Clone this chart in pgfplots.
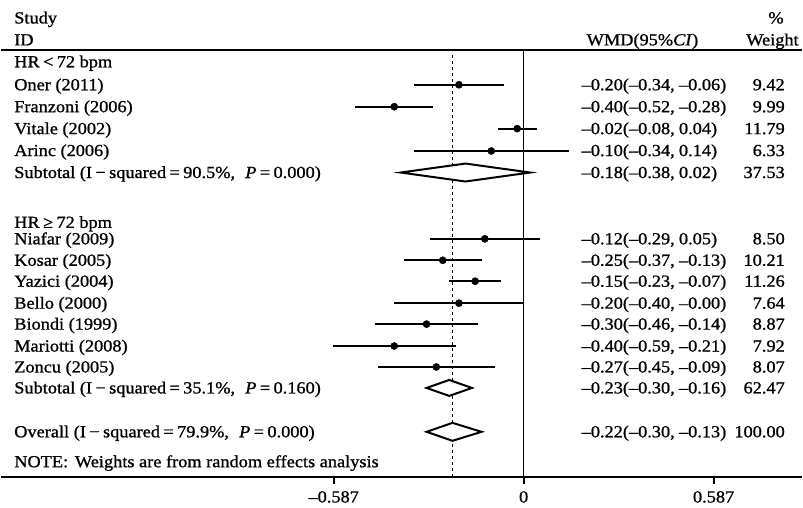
\documentclass[border=0pt]{standalone}
\usepackage{fontspec}
\setmainfont{Liberation Serif}[FakeStretch=1.08, FakeBold=1.0]
\usepackage{pgfplots}
\usepackage{pgfplotstable}
\pgfplotsset{compat=1.18}

% y = 509 - pixel row; est, lower, upper
\pgfplotstableread{
y est lo hi
424 -0.20 -0.34 -0.06
402 -0.40 -0.52 -0.28
380 -0.02 -0.08 0.04
357.6 -0.10 -0.34 0.14
269.5 -0.12 -0.29 0.05
248 -0.25 -0.37 -0.13
227 -0.15 -0.23 -0.07
205 -0.20 -0.40 -0.00
184 -0.30 -0.46 -0.14
162 -0.40 -0.59 -0.21
141 -0.27 -0.45 -0.09
}\studies

\tikzset{lab/.style={font=\fontsize{17}{20}\selectfont, inner sep=0pt, text=black}}
\newcommand\ci[3]{#1(#2,\hspace{0.25em}#3)}
\newcommand\sq{\hspace{0.2em}}
\newcommand\rowtext[4]{%
  \node[lab, anchor=base west] at (axis cs:-1.5747,#1) {#2};
  \node[lab, anchor=base west] at (axis cs:0.1787,#1) {#3};
  \node[lab, anchor=base east] at (axis cs:0.8074,#1) {#4};
}

\begin{document}
\begin{tikzpicture}
\begin{axis}[
  width=803pt, height=428pt, scale only axis,
  xmin=-1.6148, xmax=0.8598, ymin=31, ymax=459,
  axis x line=bottom, axis y line=none,
  axis line style={-, line width=2.2pt, black},
  xtick={-0.587,0,0.587}, xticklabels={–0.587,0,0.587},
  xtick align=outside, major tick length=7pt,
  xtick style={line width=1.8pt, black},
  xticklabel style={font=\fontsize{17}{20}\selectfont, yshift=-4pt},
  ytick=\empty,
  clip=false,
]
% frame lines
\addplot[black, line width=2.2pt] coordinates {(-1.6148,459) (0.8598,459)};
\addplot[black, line width=1.6pt] coordinates {(0,31) (0,459)};
\addplot[black, line width=1pt, dash pattern=on 3pt off 3pt] coordinates {(-0.22,31) (-0.22,457)};

% confidence intervals
\addplot[black, line width=1.9pt, -, quiver={u=\thisrow{hi}-\thisrow{lo}, v=0}]
  table[x=lo, y=y] {\studies};
% point estimates
\addplot[black, only marks, mark=*, mark size=3.6pt] table[x=est, y=y] {\studies};

% diamonds
\addplot[black, line width=2pt, fill=white] coordinates {(-0.38,336) (-0.18,345) (0.02,336) (-0.18,327)} --cycle;
\addplot[black, line width=2pt, fill=white] coordinates {(-0.30,120) (-0.23,128) (-0.16,120) (-0.23,112)} --cycle;
\addplot[black, line width=2pt, fill=white] coordinates {(-0.30,76) (-0.22,85) (-0.13,76) (-0.22,67)} --cycle;

% headers
\node[lab, anchor=base west] at (axis cs:-1.5747,485.5) {Study};
\node[lab, anchor=base west] at (axis cs:-1.5747,463.5) {ID};
\node[lab, anchor=base west] at (axis cs:0.1941,463.5) {WMD(95\%\textit{CI})};
\node[lab, anchor=base] at (axis cs:0.7797,485.5) {\%};
\node[lab, anchor=base east] at (axis cs:0.8505,463.5) {Weight};

\node[lab, anchor=base west] at (axis cs:-1.5747,441.5) {HR\sq<\sq72 bpm};
\rowtext{418.5}{Oner (2011)}{\ci{–0.20}{–0.34}{–0.06}}{9.42}
\rowtext{396.5}{Franzoni (2006)}{\ci{–0.40}{–0.52}{–0.28}}{9.99}
\rowtext{374.5}{Vitale (2002)}{\ci{–0.02}{–0.08}{0.04}}{11.79}
\rowtext{352.5}{Arinc (2006)}{\ci{–0.10}{–0.34}{0.14}}{6.33}
\rowtext{330.5}{Subtotal (I\sq−\sq squared\sq=\sq90.5\%,\hspace{0.6em}\textit{P}\sq=\sq0.000)}{\ci{–0.18}{–0.38}{0.02}}{37.53}

\node[lab, anchor=base west] at (axis cs:-1.5747,280.5) {HR\sq≥\sq72 bpm};
\rowtext{264}{Niafar (2009)}{\ci{–0.12}{–0.29}{0.05}}{8.50}
\rowtext{242.5}{Kosar (2005)}{\ci{–0.25}{–0.37}{–0.13}}{10.21}
\rowtext{221.5}{Yazici (2004)}{\ci{–0.15}{–0.23}{–0.07}}{11.26}
\rowtext{199.5}{Bello (2000)}{\ci{–0.20}{–0.40}{–0.00}}{7.64}
\rowtext{178.5}{Biondi (1999)}{\ci{–0.30}{–0.46}{–0.14}}{8.87}
\rowtext{156.5}{Mariotti (2008)}{\ci{–0.40}{–0.59}{–0.21}}{7.92}
\rowtext{135.5}{Zoncu (2005)}{\ci{–0.27}{–0.45}{–0.09}}{8.07}
\rowtext{114.5}{Subtotal (I\sq−\sq squared\sq=\sq35.1\%,\hspace{0.6em}\textit{P}\sq=\sq0.160)}{\ci{–0.23}{–0.30}{–0.16}}{62.47}

\rowtext{70.5}{Overall (I\sq−\sq squared\sq=\sq79.9\%,\hspace{0.6em}\textit{P}\sq=\sq0.000)}{\ci{–0.22}{–0.30}{–0.13}}{100.00}

\node[lab, anchor=base west] at (axis cs:-1.5747,40.5) {NOTE:\hspace{0.4em}Weights are from random effects analysis};

% fix bounding box to the reference size
\path[draw=none] (axis cs:-1.6148,0) rectangle (axis cs:0.8598,509);
\end{axis}
\end{tikzpicture}
\end{document}
